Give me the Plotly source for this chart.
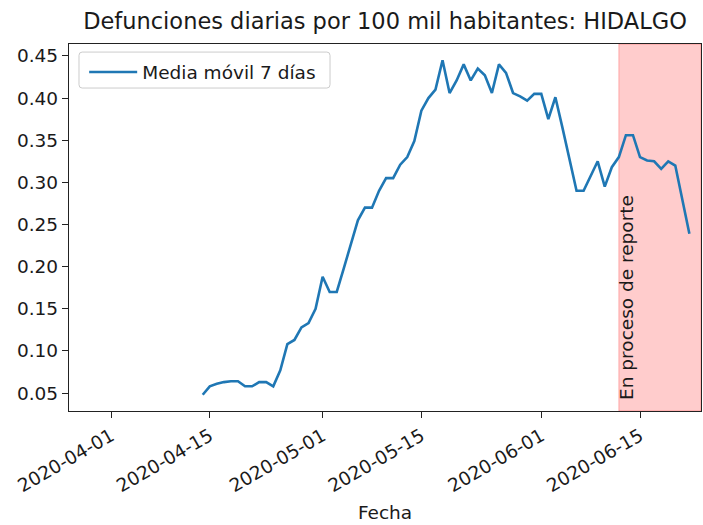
import plotly.graph_objects as go
import pandas as pd

# Data (7-day moving average of daily deaths per 100k inhabitants, Hidalgo)
start_date = "2020-04-14"
media_movil = [
    0.048, 0.058, 0.061, 0.063, 0.064, 0.064, 0.058, 0.058, 0.063, 0.063,  # 04-14 .. 04-23
    0.058, 0.077, 0.108, 0.113, 0.128, 0.133, 0.150, 0.188, 0.170, 0.170,  # 04-24 .. 05-03
    0.198, 0.227, 0.255, 0.270, 0.270, 0.290, 0.305, 0.305, 0.321, 0.330,  # 05-04 .. 05-13
    0.349, 0.385, 0.400, 0.410, 0.445, 0.406, 0.421, 0.440, 0.421, 0.435,  # 05-14 .. 05-23
    0.427, 0.406, 0.440, 0.430, 0.406, 0.402, 0.397, 0.405, 0.405, 0.375,  # 05-24 .. 06-02
    0.401, 0.365, 0.328, 0.290, 0.290, 0.307, 0.325, 0.295, 0.318, 0.330,  # 06-03 .. 06-12
    0.356, 0.356, 0.330, 0.326, 0.325, 0.316, 0.325, 0.320, 0.278, 0.239,  # 06-13 .. 06-22
]
fechas = pd.date_range(start_date, periods=len(media_movil), freq="D")

reporte_inicio = "2020-06-12"
x_ticks = ["2020-04-01", "2020-04-15", "2020-05-01", "2020-05-15", "2020-06-01", "2020-06-15"]
x_range = ["2020-03-26 01:00", "2020-06-23 15:30"]
y_range = [0.0287, 0.4642]

FONT = "DejaVu Sans"
TXT = "#1a1a1a"
FS = 18.5

fig = go.Figure()
fig.add_trace(go.Scatter(
    x=fechas, y=media_movil, mode="lines", name="Media móvil 7 días",
    line=dict(color="#1f77b4", width=2.6),
))

fig.add_shape(type="rect", xref="x", yref="paper",
              x0=reporte_inicio, x1=x_range[1], y0=0, y1=1,
              fillcolor="rgba(255,0,0,0.2)", line=dict(color="rgba(255,0,0,0.25)", width=1),
              layer="below")

# legend frame (rounded box like matplotlib's)
lx0, lx1, ly0, ly1 = 0.0158, 0.413, 0.880, 0.978
rx, ry = 0.005, 0.009
frame = (f"M {lx0+rx},{ly1} L {lx1-rx},{ly1} Q {lx1},{ly1} {lx1},{ly1-ry} "
         f"L {lx1},{ly0+ry} Q {lx1},{ly0} {lx1-rx},{ly0} L {lx0+rx},{ly0} "
         f"Q {lx0},{ly0} {lx0},{ly0+ry} L {lx0},{ly1-ry} Q {lx0},{ly1} {lx0+rx},{ly1} Z")
fig.add_shape(type="path", xref="paper", yref="paper", path=frame,
              fillcolor="rgba(255,255,255,0.8)", line=dict(color="#cccccc", width=1),
              layer="above")

fig.add_annotation(x=reporte_inicio, y=0.0393, xref="x", yref="y",
                   text="En proceso de reporte", textangle=-90, showarrow=False,
                   xanchor="left", yanchor="bottom", xshift=-5,
                   font=dict(family=FONT, size=FS, color=TXT))

fig.update_layout(
    width=703, height=525,
    margin=dict(l=69, r=2, t=44, b=114),
    paper_bgcolor="white", plot_bgcolor="white",
    font=dict(family=FONT, size=FS, color=TXT),
    title=dict(text="Defunciones diarias por 100 mil habitantes: HIDALGO",
               x=(69 + 701) / 2 / 703, xanchor="center",
               y=1 - 21 / 525, yanchor="middle", yref="container",
               font=dict(family=FONT, size=22.5, color=TXT)),
    showlegend=True,
    legend=dict(x=0.024, y=0.974, xanchor="left", yanchor="top",
                bgcolor="rgba(0,0,0,0)", borderwidth=0, itemwidth=48,
                font=dict(family=FONT, size=FS, color=TXT)),
)

fig.update_xaxes(
    range=x_range, type="date",
    tickvals=x_ticks, ticktext=x_ticks, tickangle=-30,
    ticks="outside", ticklen=6, tickcolor="#222", tickwidth=1.3,
    showline=True, linecolor="#222", linewidth=1.3, mirror=True,
    showgrid=False, zeroline=False,
    tickfont=dict(family=FONT, size=FS, color=TXT),
    title=dict(text="Fecha", font=dict(family=FONT, size=FS, color=TXT), standoff=10),
)
fig.update_yaxes(
    range=y_range, tick0=0.05, dtick=0.05, tickformat=".2f",
    ticks="outside", ticklen=6, tickcolor="#222", tickwidth=1.3,
    showline=True, linecolor="#222", linewidth=1.3, mirror=True,
    showgrid=False, zeroline=False,
    tickfont=dict(family=FONT, size=FS, color=TXT),
)

fig.write_html(
    "out.html",
    config={"displayModeBar": False},
    post_script="document.body.style.margin='0px';document.body.style.overflow='hidden';",
)
